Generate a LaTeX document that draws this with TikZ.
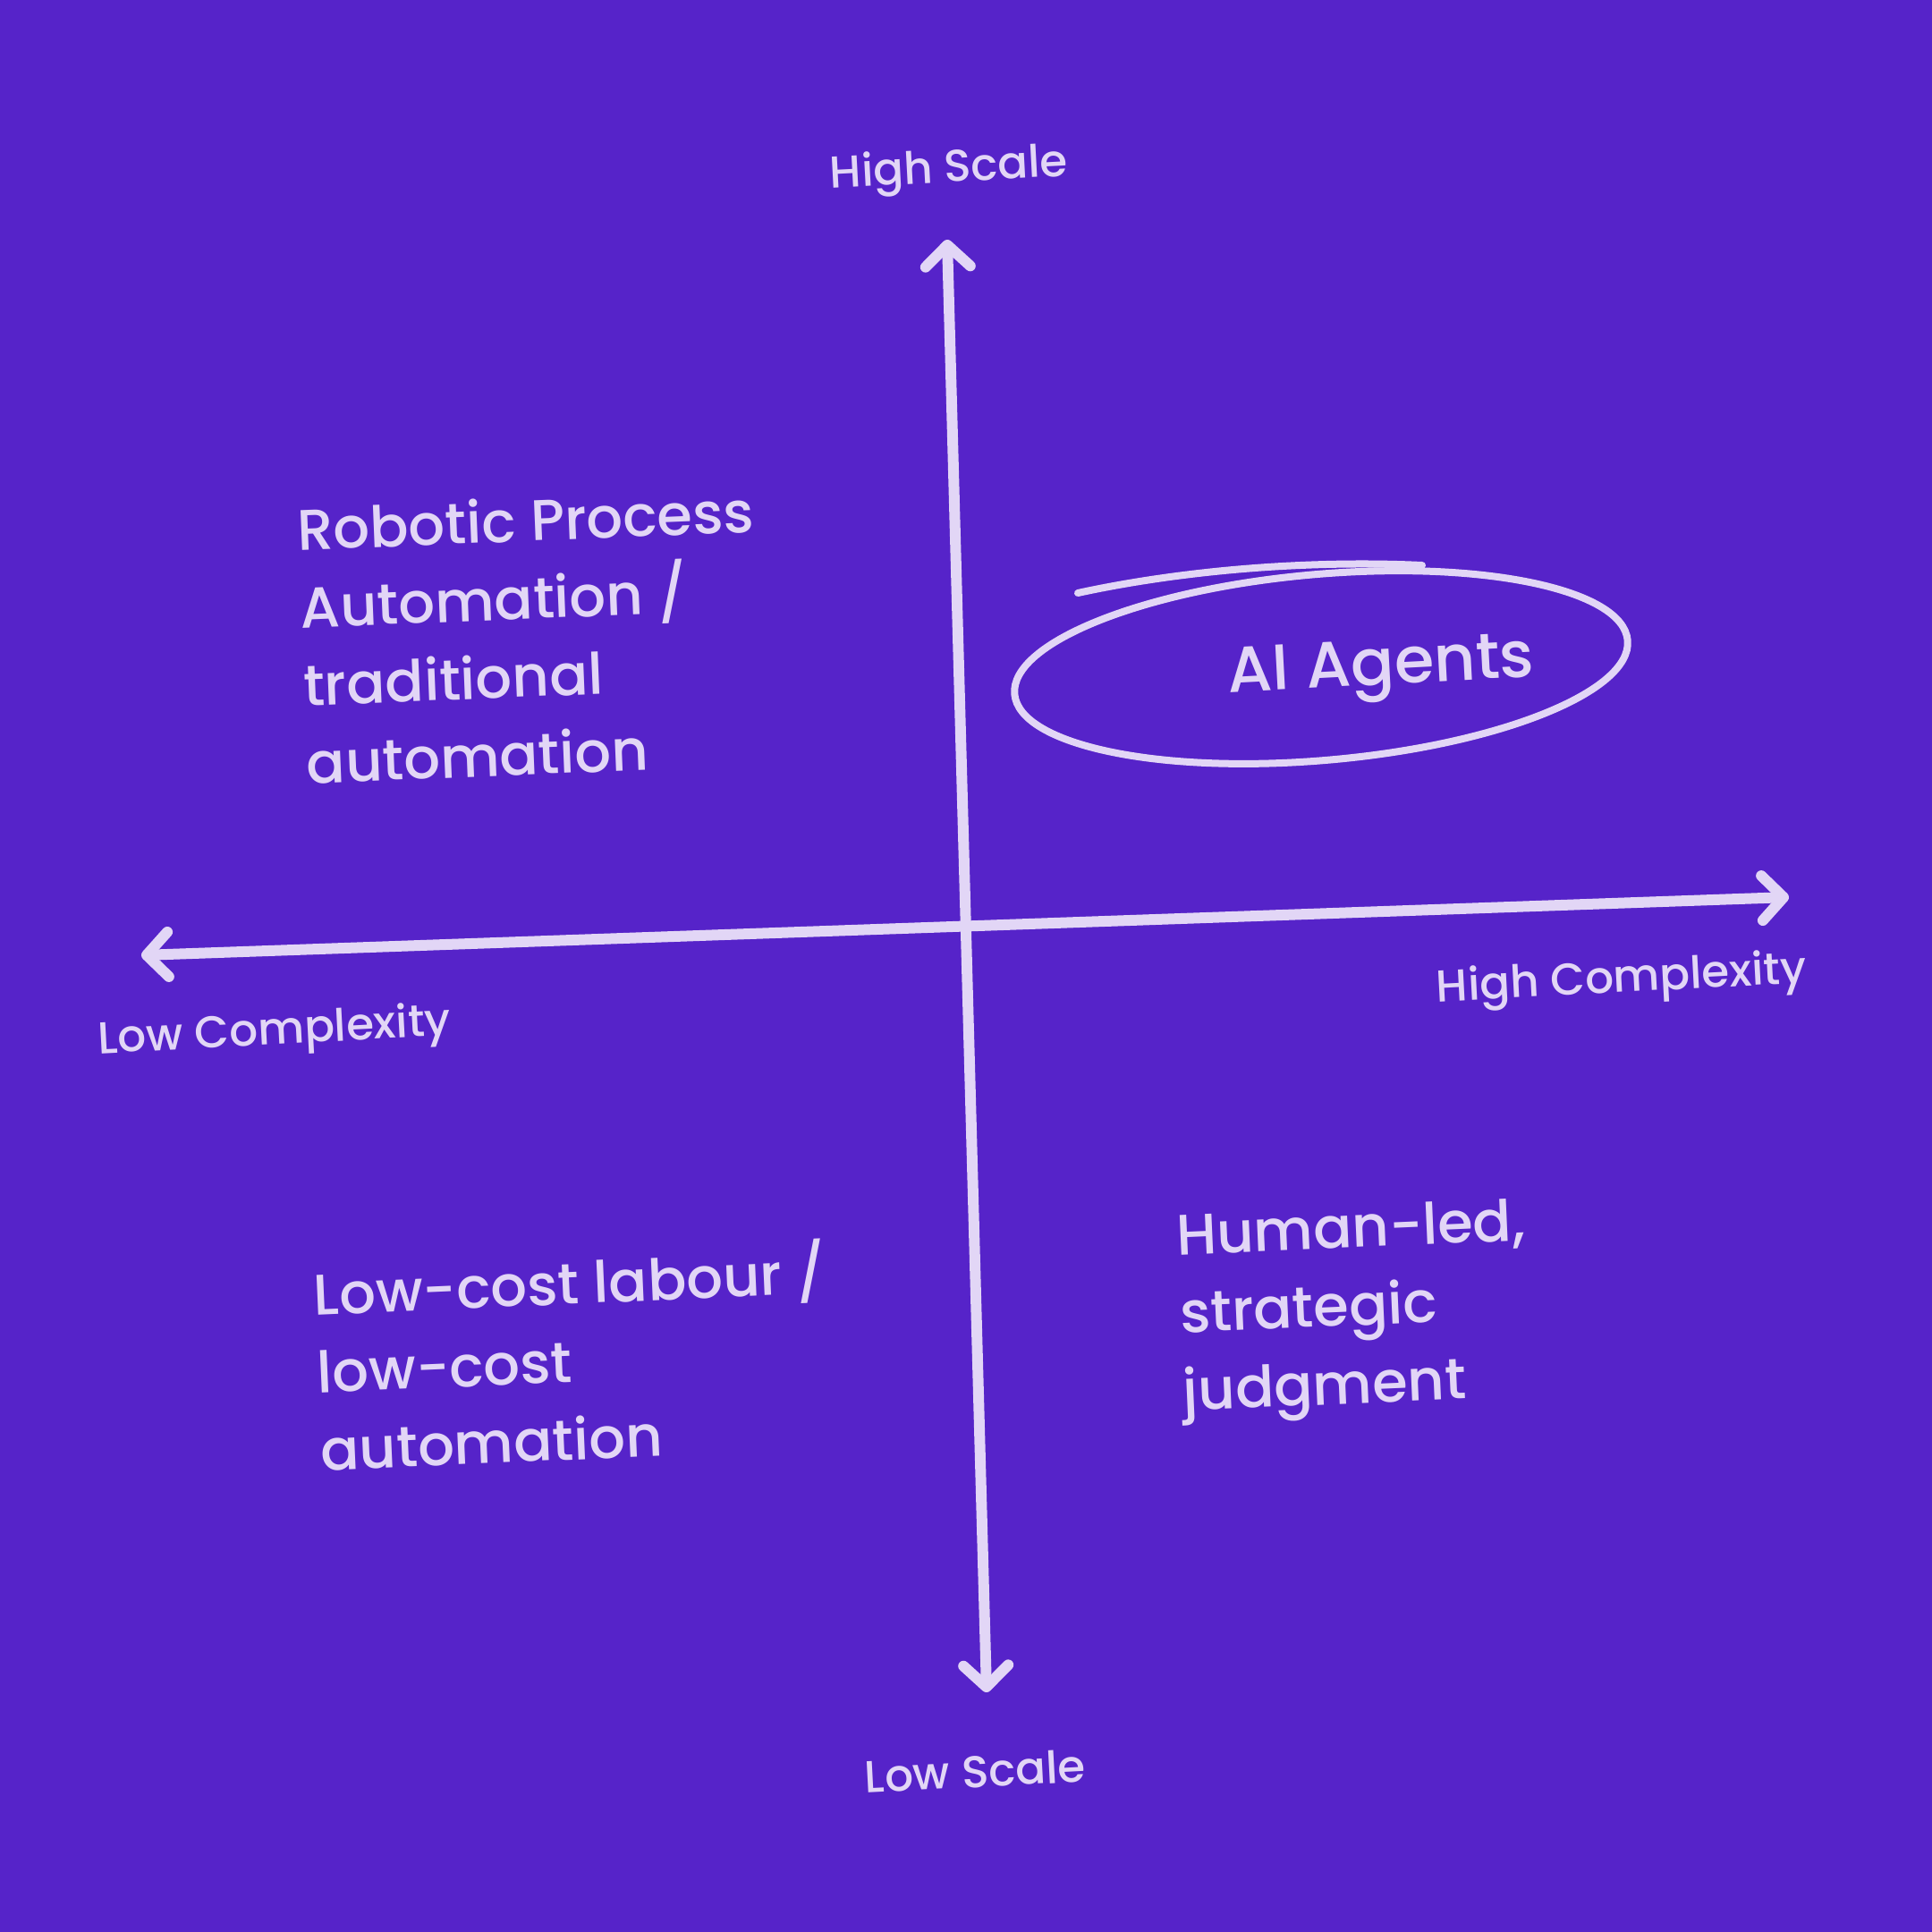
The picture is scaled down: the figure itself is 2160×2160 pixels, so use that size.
\documentclass[tikz,border=0pt]{standalone}
\usepackage{fontspec}
\setmainfont{Poppins}[UprightFont={* Medium}]
\usetikzlibrary{arrows.meta}
\definecolor{bg}{HTML}{5623C9}
\definecolor{chalk}{HTML}{E2D6F6}
\begin{document}
\begin{tikzpicture}[x=1pt,y=-1pt,
  lab/.style={text=chalk, font=\fontsize{50}{60}\selectfont, inner sep=0pt, rotate=3},
  big/.style={text=chalk, font=\fontsize{64}{87}\selectfont, align=left, inner sep=0pt, anchor=north west},
  axisline/.style={draw=chalk, line width=12pt, line cap=round,
    {Straight Barb[length=24pt,width=50pt,line cap=round,line join=round]}-{Straight Barb[length=24pt,width=50pt,line cap=round,line join=round]}},
  loop/.style={draw=chalk, line width=8pt, line cap=round}
]
\useasboundingbox (0,0) rectangle (2160,2160);
\fill[bg] (0,0) rectangle (2160,2160);

% axes
\coordinate (top) at (1059,268);
\coordinate (bottom) at (1103,1892);
\coordinate (left) at (158,1068);
\coordinate (right) at (2000,1003);
\draw[axisline] (bottom) -- (top);
\draw[axisline] (left) -- (right);

% axis labels
\node[lab] (hs) at (1061,191) {High Scale};
\node[lab] (ls) at (1090,1980) {Low Scale};
\node[lab] (lc) at (307,1155) {Low Complexity};
\node[lab] (hc) at (1813,1097) {High Complexity};

% quadrant texts
\node[big, rotate=2.3] (rpa) at (331,566) {Robotic Process\\Automation /\\traditional\\automation};
\node[big, rotate=2.5] (lcl) at (349,1410) {Low-cost labour /\\low-cost\\automation};
\node[big, rotate=2.5] (hl) at (1314,1356) {Human-led,\\strategic\\judgment};

% AI agents
\node[text=chalk, font=\fontsize{72}{86}\selectfont, inner sep=0pt, rotate=3] (ai) at (1544,750) {AI Agents};
\draw[loop, rotate around={5:(1477,746)}] (1477,746) ellipse [x radius=344, y radius=104];
\coordinate (tailstart) at (1205,663);
\coordinate (tailend) at (1590,632);
\draw[loop] (tailstart) .. controls (1320,638) and (1460,626) .. (tailend);
\end{tikzpicture}
\end{document}
